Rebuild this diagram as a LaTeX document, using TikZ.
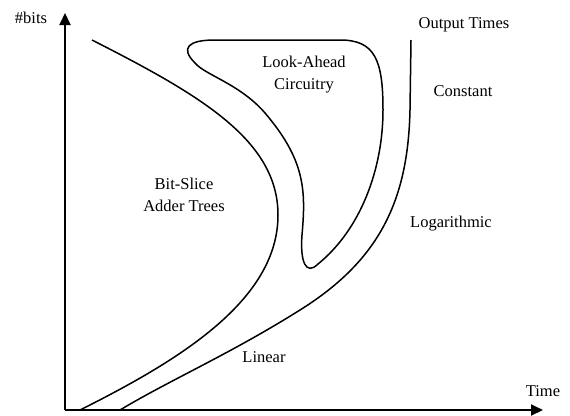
\documentclass[tikz,border=0pt]{standalone}
\usepackage{fontspec}
\setmainfont{Liberation Serif}
\usetikzlibrary{positioning, arrows.meta}

\tikzset{
  axis/.style={line width=2pt, -{Triangle[width=11pt,length=12pt]}},
  bound/.style={line width=1.5pt},
  lbl/.style={inner sep=0pt, align=center, font=\fontsize{16.5}{22}\selectfont}
}

\begin{document}
\begin{tikzpicture}[x=1pt, y=-1pt]
			\useasboundingbox (0,0) rectangle (570,415);

			\coordinate (o) at (65,410);
			\coordinate (ytip) at (65,13);
			\coordinate (xtip) at (543,410);

			\draw[axis] (o) -- (ytip);
			\draw[axis] (o) -- (xtip);

			\node[lbl] (bits) at (31,18) {\#bits};
			\node[lbl, above = 13pt of xtip] (time) {Time};
			\node[lbl] (out) at (464,25) {Output Times};
			\node[lbl] (const) at (463,91) {Constant};
			\node[lbl] (log) at (451,224) {Logarithmic};
			\node[lbl] (lin) at (264,357) {Linear};
			\node[lbl] (bs) at (184,195) {Bit-Slice\\Adder Trees};
			\node[lbl] (la) at (304,75) {Look-Ahead\\Circuitry};

			% bit-slice boundary
			\draw[bound] (92,40) .. controls (200,95) and (278,140) .. (278,215)
				.. controls (278,300) and (180,360) .. (80,410);
			% output line
			\draw[bound] (411,40) -- (410,110) .. controls (408,200) and (380,260) .. (300,310)
				.. controls (230,354) and (170,380) .. (120,410);
			% look-ahead loop
			\draw[bound] (195,63) .. controls (180,48) and (188,40) .. (215,40) -- (340,40)
				.. controls (375,40) and (383,60) .. (383,110)
				.. controls (383,170) and (360,230) .. (318,264)
				.. controls (306,276) and (300,262) .. (302,235)
				.. controls (306,190) and (305,160) .. (265,113)
				.. controls (240,84) and (205,75) .. cycle;
		\end{tikzpicture}
\end{document}
